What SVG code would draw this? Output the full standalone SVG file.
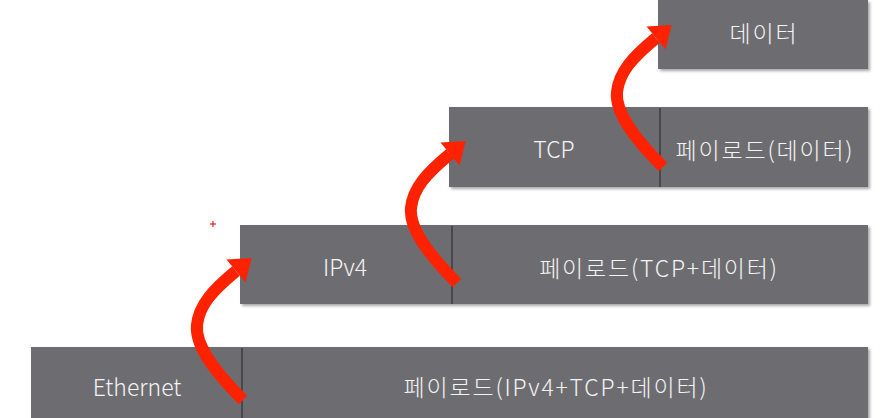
<svg xmlns="http://www.w3.org/2000/svg" width="880" height="418" viewBox="0 0 880 418">
<defs>
<filter id="sh" x="-5%" y="-10%" width="115%" height="130%">
<feDropShadow dx="2" dy="2" stdDeviation="1.5" flood-color="#000" flood-opacity="0.35"/>
</filter>
<marker id="ah" markerUnits="userSpaceOnUse" markerWidth="22" markerHeight="32" viewBox="0 -15 20 30" refX="0" refY="0" orient="auto">
<path d="M0,-14 L19,0 L0,14 Z" fill="#ff2200"/>
</marker>
<path id="arw" d="M243,400 C213,370 195,345 197,325 C199,305 213,290 236,271"/>
</defs>
<style>
.box{fill:#6d6d71;filter:url(#sh)}
.div{stroke:#48484c;stroke-width:2}
.lbl{font-family:"Noto Sans CJK KR","Malgun Gothic","Liberation Sans",sans-serif;font-size:23px;fill:#f4f4f4;text-anchor:middle;dominant-baseline:central;font-weight:300}
.ko{letter-spacing:1.8px}
.arrow{fill:none;stroke:#ff2200;stroke-width:12;marker-end:url(#ah)}
</style>
<rect width="880" height="418" fill="#fff"/>
<path d="M210,224 H216 M213,221 V227" stroke="#e00000" stroke-width="1"/>

<g id="row-data">
<rect class="box" x="658" y="0" width="210" height="69"/>
<text class="lbl ko" x="764" y="32">데이터</text>
</g>

<g id="row-tcp">
<rect class="box" x="449" y="107" width="419" height="80"/>
<text class="lbl" x="554" y="148">TCP</text>
<line class="div" x1="660" y1="108" x2="660" y2="187"/>
<text class="lbl ko" x="765" y="149">페이로드(데이터)</text>
</g>

<g id="row-ipv4">
<rect class="box" x="240" y="225" width="628" height="79"/>
<text class="lbl" x="345" y="266">IPv4</text>
<line class="div" x1="452" y1="226" x2="452" y2="304"/>
<text class="lbl ko" x="659" y="267">페이로드(TCP+데이터)</text>
</g>

<g id="row-ethernet">
<rect class="box" x="31" y="347" width="837" height="80"/>
<text class="lbl" x="137" y="386">Ethernet</text>
<line class="div" x1="242" y1="348" x2="242" y2="418"/>
<text class="lbl ko" x="556" y="386">페이로드(IPv4+TCP+데이터)</text>
</g>

<g id="connectors">
<use href="#arw" class="arrow"/>
<use href="#arw" class="arrow" transform="translate(214,-117)"/>
<use href="#arw" class="arrow" transform="translate(420,-233)"/>
</g>
</svg>
